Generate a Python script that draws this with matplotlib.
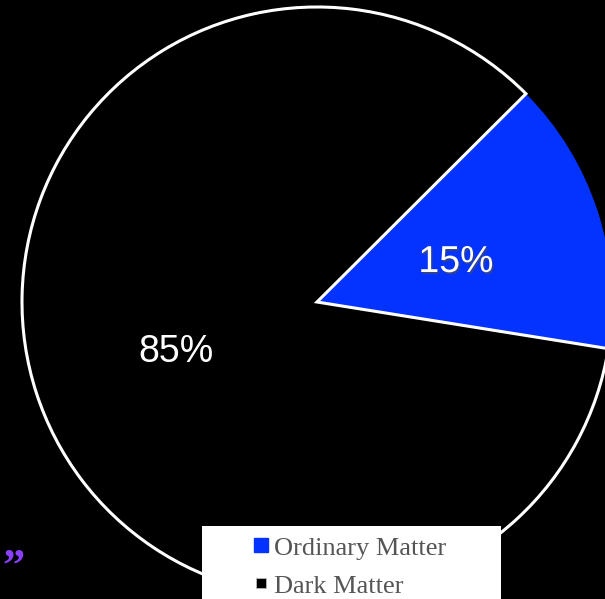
import matplotlib.pyplot as plt
import matplotlib.patheffects as pe
from matplotlib.lines import Line2D
from matplotlib.patches import Rectangle

labels = ["Ordinary Matter", "Dark Matter"]
shares = [15, 85]
colors = ["#0433ff", "#000000"]

W, H = 605, 599
fig = plt.figure(figsize=(W / 100, H / 100), dpi=100, facecolor="black")
ax = fig.add_axes([0, 0, 1, 1])
ax.set_facecolor("black")

# pie in pixel coords (y flipped)
wedges, texts, autotexts = ax.pie(
    shares, colors=colors, startangle=-9.1, counterclock=True,
    center=(317, H - 302), radius=295, autopct="%d%%", pctdistance=0.49,
    textprops=dict(color="white", fontsize=27, family="Liberation Sans"),
    frame=True,
)
wedges[0].set_edgecolor("#0433ff")
wedges[0].set_linewidth(0)
wedges[1].set_edgecolor("white")
wedges[1].set_linewidth(2.2)
autotexts[0].set_path_effects([pe.SimplePatchShadow(offset=(1, -1.5), alpha=0.6), pe.Normal()])
# nudge labels to where they sit in the original
autotexts[0].set_position((456, H - 262))
autotexts[1].set_position((176, H - 352))

ax.set_xlim(0, W)
ax.set_ylim(0, H)
ax.set_aspect("equal")
ax.axis("off")

# legend box
ax.add_patch(Rectangle((202, -20), 299, H - 526 + 20, facecolor="white",
                       edgecolor="none", zorder=5))
handles = [
    Line2D([], [], marker="s", linestyle="none", markersize=9.6,
           markerfacecolor=colors[0], markeredgecolor=colors[0]),
    Line2D([], [], marker="s", linestyle="none", markersize=7.6,
           markerfacecolor=colors[1], markeredgecolor="#bbbbbb", markeredgewidth=0.6),
]
leg = ax.legend(handles, labels, loc="upper left", bbox_to_anchor=(241 / W, 1 - 523 / H),
                frameon=False, handlelength=0.55, handletextpad=0.2, labelspacing=0.55,
                prop=dict(family="Liberation Serif", size=19), borderpad=0)
for t in leg.get_texts():
    t.set_color("#555555")
leg.set_zorder(6)

ax.text(2, H - 568, "”", color="#8a3ffc", fontsize=32, family="Liberation Serif",
        ha="left", va="center", fontweight="bold")

fig.savefig("out.png", dpi=100, facecolor="black")
